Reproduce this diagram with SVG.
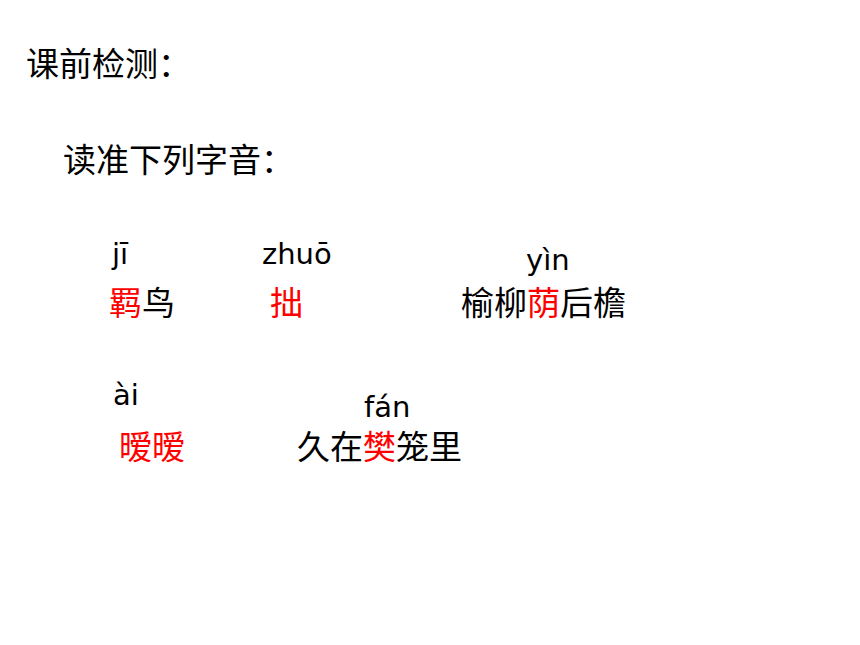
<svg xmlns="http://www.w3.org/2000/svg" width="860" height="645" viewBox="0 0 860 645">
<style>
.zh{font-family:"Noto Sans CJK SC","Liberation Sans",sans-serif;font-size:33px;fill:#000}
.py{font-family:"DejaVu Sans","Liberation Sans",sans-serif;font-size:29px;fill:#000}
.r{fill:#FF0000}
</style>
<rect width="860" height="645" fill="#fff"/>
<g id="title"><text class="zh" x="26" y="76">课前检测：</text></g>
<g id="subtitle"><text class="zh" x="63" y="172">读准下列字音：</text></g>
<g id="item-ji">
<text class="py" x="112" y="264">jī</text>
<text class="zh" x="109" y="315"><tspan class="r">羁</tspan>鸟</text>
</g>
<g id="item-zhuo">
<text class="py" x="262" y="264">zhuō</text>
<text class="zh r" x="270" y="315">拙</text>
</g>
<g id="item-yin">
<text class="py" x="526" y="270">yìn</text>
<text class="zh" x="461" y="315">榆柳<tspan class="r">荫</tspan>后檐</text>
</g>
<g id="item-ai">
<text class="py" x="113" y="405">ài</text>
<text class="zh r" x="119" y="459">暧暧</text>
</g>
<g id="item-fan">
<text class="py" x="364" y="417">fán</text>
<text class="zh" x="297" y="459">久在<tspan class="r">樊</tspan>笼里</text>
</g>
<g id="connectors"/>
</svg>
